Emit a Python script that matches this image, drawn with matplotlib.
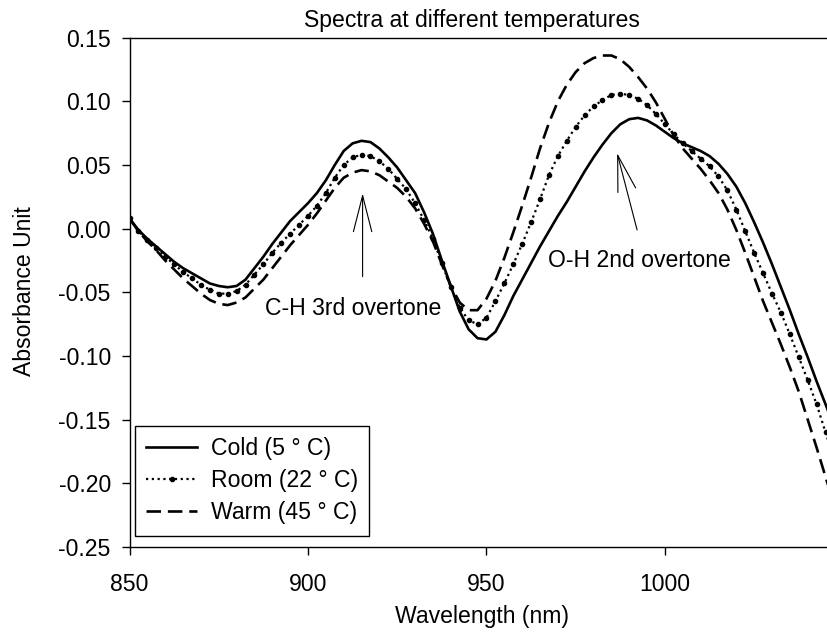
import numpy as np
import matplotlib
matplotlib.use("Agg")
import matplotlib.pyplot as plt

plt.rcParams['font.family'] = ['Liberation Sans', 'DejaVu Sans']

# longitud de onda (nm), cada 2.5 nm
wavelength = np.arange(850.0, 1048.0, 2.5)

cold = [0.008, -0.001, -0.008, -0.014, -0.020, -0.026, -0.031, -0.035, -0.039, -0.043,
        -0.045, -0.046, -0.045, -0.040, -0.031, -0.022, -0.012, -0.003, 0.006, 0.013,
        0.020, 0.028, 0.038, 0.050, 0.061, 0.067, 0.069, 0.068, 0.063, 0.056,
        0.048, 0.038, 0.028, 0.013, -0.004, -0.025, -0.045, -0.065, -0.079, -0.086,
        -0.087, -0.081, -0.068, -0.053, -0.040, -0.027, -0.014, -0.002, 0.010, 0.021,
        0.033, 0.045, 0.056, 0.066, 0.075, 0.082, 0.086, 0.087, 0.085, 0.081,
        0.076, 0.071, 0.067, 0.064, 0.061, 0.057, 0.051, 0.043, 0.033, 0.020,
        0.005, -0.011, -0.028, -0.046, -0.064, -0.083, -0.101, -0.120, -0.138, -0.156]

room = [0.008, -0.002, -0.009, -0.015, -0.022, -0.028, -0.034, -0.039, -0.044, -0.048,
        -0.051, -0.051, -0.049, -0.044, -0.036, -0.028, -0.019, -0.011, -0.004, 0.003,
        0.010, 0.018, 0.028, 0.040, 0.050, 0.056, 0.058, 0.057, 0.053, 0.047,
        0.039, 0.031, 0.020, 0.007, -0.008, -0.027, -0.046, -0.062, -0.072, -0.075,
        -0.070, -0.057, -0.043, -0.028, -0.012, 0.005, 0.023, 0.042, 0.057, 0.069,
        0.080, 0.089, 0.096, 0.101, 0.105, 0.106, 0.105, 0.102, 0.097, 0.090,
        0.082, 0.074, 0.067, 0.061, 0.055, 0.049, 0.041, 0.030, 0.015, -0.002,
        -0.019, -0.035, -0.051, -0.066, -0.083, -0.101, -0.119, -0.138, -0.160, -0.182]

warm = [0.008, -0.002, -0.010, -0.017, -0.025, -0.032, -0.039, -0.045, -0.051, -0.056,
        -0.059, -0.060, -0.058, -0.054, -0.047, -0.040, -0.031, -0.022, -0.013, -0.005,
        0.003, 0.012, 0.022, 0.032, 0.040, 0.044, 0.046, 0.045, 0.042, 0.037,
        0.032, 0.025, 0.016, 0.004, -0.010, -0.028, -0.045, -0.058, -0.064, -0.064,
        -0.055, -0.041, -0.023, -0.003, 0.018, 0.040, 0.063, 0.083, 0.100, 0.113,
        0.123, 0.130, 0.134, 0.136, 0.136, 0.133, 0.127, 0.119, 0.110, 0.099,
        0.086, 0.073, 0.063, 0.055, 0.047, 0.038, 0.028, 0.015, -0.001, -0.019,
        -0.038, -0.057, -0.074, -0.091, -0.109, -0.128, -0.150, -0.172, -0.195, -0.218]

labels = ['Cold (5 ° C)', 'Room (22 ° C)', 'Warm (45 ° C)']
xticks = [850, 900, 950, 1000]
yticks = [-0.25, -0.20, -0.15, -0.10, -0.05, 0.00, 0.05, 0.10, 0.15]

fs = 16.6
fig = plt.figure(figsize=(8.27, 6.44), dpi=100)
ax = fig.add_axes([0.1566, 0.1506, 0.8434, 0.7909])

ax.plot(wavelength, cold, color='black', lw=1.9, ls='-', label=labels[0])
ax.plot(wavelength, room, color='black', lw=1.6, ls=(0, (1, 1.6)),
        marker='o', markersize=3, label=labels[1])
ax.plot(wavelength, warm, color='black', lw=1.9, ls=(0, (5.5, 2.6)), label=labels[2])

ax.set_xlim(850, 1045.4)
ax.set_ylim(-0.25, 0.15)
ax.set_xticks(xticks)
ax.set_yticks(yticks)
ax.set_yticklabels([f'{v:.2f}' for v in yticks])
ax.tick_params(axis='both', direction='out', length=5.5, width=1, labelsize=fs)
ax.tick_params(axis='x', pad=13)
ax.tick_params(axis='y', pad=8)
ax.spines['right'].set_visible(False)
for s in ['left', 'bottom', 'top']:
    ax.spines[s].set_linewidth(1.0)

# Flechas y anotaciones
estilo = '->, head_length=1.3, head_width=0.33'
ax.annotate('', xy=(915.3, 0.0278), xytext=(915.3, -0.0377),
            arrowprops=dict(arrowstyle=estilo, lw=0.8, color='black',
                            mutation_scale=20, shrinkA=0, shrinkB=0))
ax.text(912.6, -0.0625, 'C-H 3rd overtone', fontsize=fs, ha='center', va='center')
ax.annotate('', xy=(986.6, 0.0594), xytext=(992.2, -0.001),
            arrowprops=dict(arrowstyle=estilo, lw=0.8, color='black',
                            mutation_scale=20, shrinkA=0, shrinkB=0))
ax.text(992.9, -0.0246, 'O-H 2nd overtone', fontsize=fs, ha='center', va='center')

fig.text(472 / 827, 1 - 20 / 644, 'Spectra at different temperatures',
         fontsize=fs, ha='center', va='center')
fig.text(482 / 827, 1 - 617 / 644, 'Wavelength (nm)', fontsize=fs, ha='center', va='center')
fig.text(25 / 827, 1 - 291 / 644, 'Absorbance Unit', fontsize=fs, ha='center',
         va='center', rotation=90)

leg = ax.legend(loc='lower left', bbox_to_anchor=(134.7 / 827, 1 - 536 / 644),
                bbox_transform=fig.transFigure, borderaxespad=0, fontsize=fs,
                fancybox=False, edgecolor='black', framealpha=1, handlelength=2.2,
                handletextpad=0.6, borderpad=0.5, labelspacing=0.4, numpoints=1)
leg.get_frame().set_linewidth(1.0)

fig.savefig('out.png', dpi=100)
